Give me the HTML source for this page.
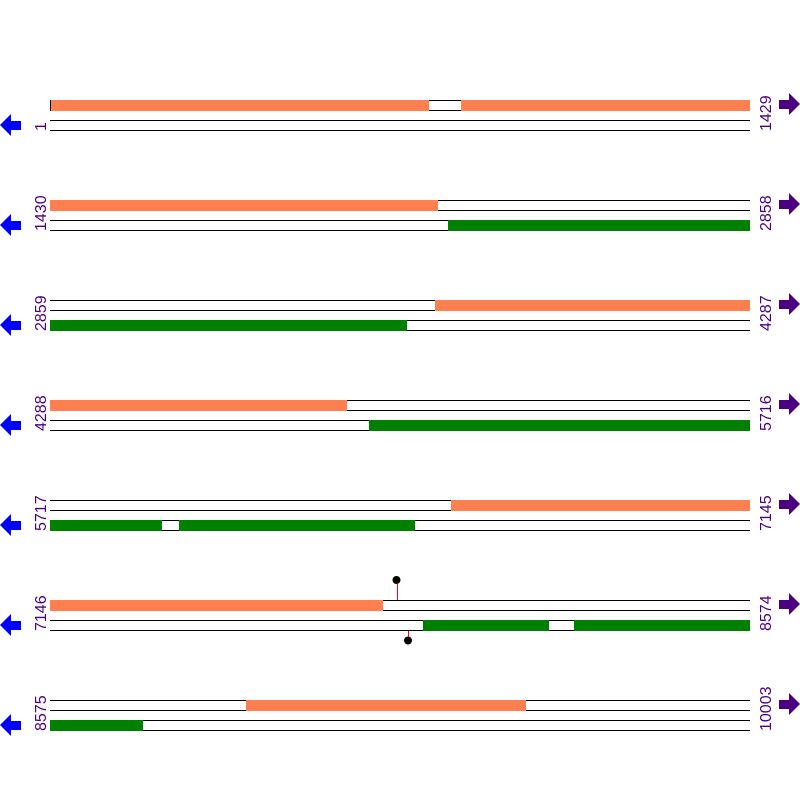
<!DOCTYPE html>
<html><head><style>body{margin:0;background:#fff}svg{display:block}</style></head>
<body>
<svg width="800" height="800" xmlns="http://www.w3.org/2000/svg" font-family="Liberation Sans, sans-serif" font-size="16" shape-rendering="crispEdges">
<defs>
<g id="row">
<line x1="50" y1="100.5" x2="750" y2="100.5" stroke="#000"/>
<line x1="50" y1="110.5" x2="750" y2="110.5" stroke="#000"/>
<line x1="50" y1="120.5" x2="750" y2="120.5" stroke="#000"/>
<line x1="50" y1="130.5" x2="750" y2="130.5" stroke="#000"/>
<polygon points="0,125 11,114 11,121 21,121 21,130 11,130 11,136" fill="#0000ff" shape-rendering="auto"/>
<polygon points="800,104 789,93 789,100 779,100 779,109 789,109 789,115" fill="#4b0082" shape-rendering="auto"/>
</g>
</defs>
<g fill="#4b0082">
<use href="#row" transform="translate(0,0)"/>
<use href="#row" transform="translate(0,100)"/>
<use href="#row" transform="translate(0,200)"/>
<use href="#row" transform="translate(0,300)"/>
<use href="#row" transform="translate(0,400)"/>
<use href="#row" transform="translate(0,500)"/>
<use href="#row" transform="translate(0,600)"/>
</g>
<g fill="#ff7f50">
<rect x="50" y="100" width="379" height="11"/><rect x="461" y="100" width="289" height="11"/>
<rect x="50" y="200" width="388" height="11"/>
<rect x="435" y="300" width="315" height="11"/>
<rect x="50" y="400" width="297" height="11"/>
<rect x="451" y="500" width="299" height="11"/>
<rect x="50" y="600" width="333" height="11"/>
<rect x="246" y="700" width="280" height="11"/>
</g>
<line x1="50.5" y1="100" x2="50.5" y2="111" stroke="#000"/>
<g fill="#008000">
<rect x="448" y="220" width="302" height="11"/>
<rect x="50" y="320" width="357" height="11"/>
<rect x="369" y="420" width="381" height="11"/>
<rect x="50" y="520" width="112" height="11"/><rect x="179" y="520" width="236" height="11"/>
<rect x="423" y="620" width="126" height="11"/><rect x="574" y="620" width="176" height="11"/>
<rect x="50" y="720" width="93" height="11"/>
</g>
<circle cx="396.5" cy="580" r="4" fill="#000" shape-rendering="auto"/>
<rect x="397" y="583" width="1" height="17" fill="#ff0000"/>
<circle cx="408" cy="640.5" r="4" fill="#000" shape-rendering="auto"/>
<rect x="408" y="631" width="1" height="6" fill="#ff0000"/>
<g fill="#4b0082" shape-rendering="auto">
<text transform="translate(46,131) rotate(-90)">1</text>
<text transform="translate(46,231) rotate(-90)">1430</text>
<text transform="translate(46,331) rotate(-90)">2859</text>
<text transform="translate(46,431) rotate(-90)">4288</text>
<text transform="translate(46,531) rotate(-90)">5717</text>
<text transform="translate(46,631) rotate(-90)">7146</text>
<text transform="translate(46,731) rotate(-90)">8575</text>
<text transform="translate(771,131) rotate(-90)">1429</text>
<text transform="translate(771,231) rotate(-90)">2858</text>
<text transform="translate(771,331) rotate(-90)">4287</text>
<text transform="translate(771,431) rotate(-90)">5716</text>
<text transform="translate(771,531) rotate(-90)">7145</text>
<text transform="translate(771,631) rotate(-90)">8574</text>
<text transform="translate(771,731) rotate(-90)">10003</text>
</g>
</svg>
</body></html>
